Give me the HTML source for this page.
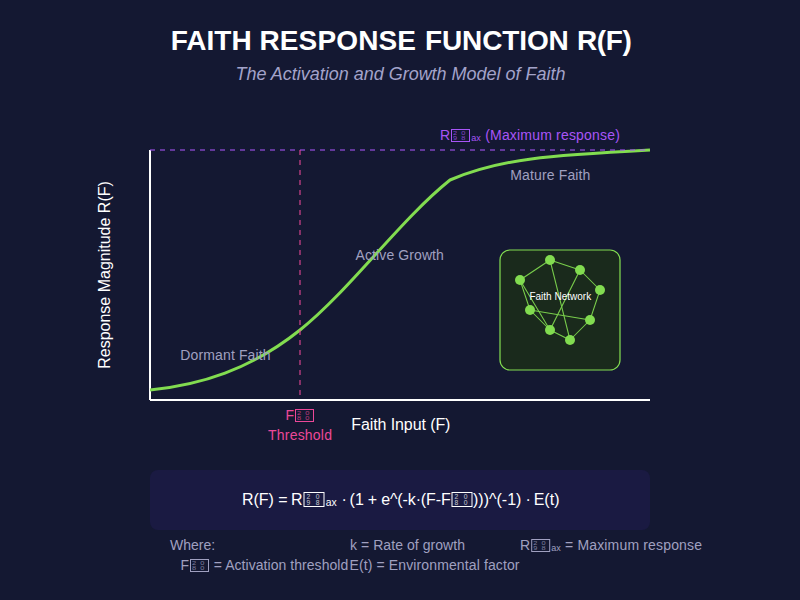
<!DOCTYPE html>
<html><head><meta charset="utf-8"><title>Faith Response Function</title>
<style>
html,body{margin:0;padding:0;background:#141832;width:800px;height:600px;overflow:hidden}
svg{display:block}
text{font-family:"Liberation Sans",sans-serif}
</style></head><body>
<svg width="800" height="600" viewBox="0 0 800 600">
<rect width="800" height="600" fill="#141832"/>
<text x="170.78" y="50" font-size="28" fill="#ffffff" font-weight="bold">FAITH</text>
<text x="259.44" y="50" font-size="28" fill="#ffffff" textLength="156.6" lengthAdjust="spacing" font-weight="bold">RESPONSE</text>
<text x="425.02" y="50" font-size="28" fill="#ffffff" textLength="143.8" lengthAdjust="spacing" font-weight="bold">FUNCTION</text>
<text x="577.05" y="50" font-size="28" fill="#ffffff" textLength="54.7" lengthAdjust="spacing" font-weight="bold">R(F)</text>
<text x="235.5" y="80" font-size="18" fill="#a3a3ca" textLength="330" lengthAdjust="spacing" font-style="italic">The Activation and Growth Model of Faith</text>
<line x1="150" y1="150" x2="150" y2="400" stroke="#ffffff" stroke-width="2"/>
<line x1="150" y1="400" x2="650" y2="400" stroke="#ffffff" stroke-width="2"/>
<path d="M150,390 C200,385 250,370 300,330 C350,290 400,220 450,180 C500,158.5 550,155.3 650,150" fill="none" stroke="#82dc50" stroke-width="3"/>
<line x1="150" y1="150" x2="650" y2="150" stroke="#a855f7" stroke-opacity="0.53" stroke-width="2" stroke-dasharray="5,5"/>
<line x1="300" y1="150" x2="300" y2="400" stroke="#ec4899" stroke-opacity="0.53" stroke-width="2" stroke-dasharray="5,5"/>
<text x="440" y="140" font-size="14" fill="#a855f7">R</text>
<g fill="#a855f7"><rect x="451.50" y="129.50" width="18.00" height="12.00" fill="none" stroke="#a855f7" stroke-width="1"/><g font-size="5.3" opacity="0.75"><text transform="translate(453.10,134.90) scale(1.4,1)">2</text><text transform="translate(461.30,134.90) scale(1.4,1)">0</text><text transform="translate(453.10,139.90) scale(1.4,1)">9</text><text transform="translate(461.30,139.90) scale(1.4,1)">8</text></g></g>
<text x="471.3" y="141" font-size="9" fill="#a855f7">ax</text>
<text x="485.2" y="140" font-size="14" fill="#a855f7" textLength="134.6" lengthAdjust="spacing">(Maximum response)</text>
<text x="180.3" y="360" font-size="14" fill="#a0a0c0" textLength="90.3" lengthAdjust="spacing">Dormant Faith</text>
<text x="355.6" y="260" font-size="14" fill="#a0a0c0" textLength="88.3" lengthAdjust="spacing">Active Growth</text>
<text x="510.2" y="180" font-size="14" fill="#a0a0c0" textLength="80.2" lengthAdjust="spacing">Mature Faith</text>
<text transform="translate(110,275) rotate(-90)" text-anchor="middle" font-size="16" fill="#ffffff">Response Magnitude R(F)</text>
<text x="351.2" y="430" font-size="16" fill="#ffffff" textLength="99.2" lengthAdjust="spacing">Faith Input (F)</text>
<text x="285.6" y="420" font-size="14" fill="#ec4899">F</text>
<g fill="#ec4899"><rect x="295.50" y="409.50" width="18.00" height="12.00" fill="none" stroke="#ec4899" stroke-width="1"/><g font-size="5.3" opacity="0.75"><text transform="translate(297.10,414.90) scale(1.4,1)">2</text><text transform="translate(305.30,414.90) scale(1.4,1)">0</text><text transform="translate(297.10,419.90) scale(1.4,1)">8</text><text transform="translate(305.30,419.90) scale(1.4,1)">0</text></g></g>
<text x="268" y="440" font-size="14" fill="#ec4899" textLength="64" lengthAdjust="spacing">Threshold</text>
<rect x="500" y="250" width="120" height="120" rx="10" fill="#1a2a1c" stroke="#82dc50" stroke-width="1.22"/>
<g stroke="#82dc50" stroke-width="1.05" opacity="0.92">
<line x1="520" y1="280" x2="550" y2="260"/>
<line x1="550" y1="260" x2="580" y2="270"/>
<line x1="580" y1="270" x2="600" y2="290"/>
<line x1="600" y1="290" x2="590" y2="320"/>
<line x1="590" y1="320" x2="570" y2="340"/>
<line x1="570" y1="340" x2="550" y2="330"/>
<line x1="550" y1="330" x2="530" y2="310"/>
<line x1="530" y1="310" x2="520" y2="280"/>
<line x1="520" y1="280" x2="550" y2="330"/>
<line x1="550" y1="260" x2="570" y2="340"/>
<line x1="580" y1="270" x2="550" y2="330"/>
<line x1="530" y1="310" x2="590" y2="320"/>
</g>
<g fill="#82dc50"><circle cx="550" cy="260" r="5"/><circle cx="580" cy="270" r="5"/><circle cx="520" cy="280" r="5"/><circle cx="600" cy="290" r="5"/><circle cx="530" cy="310" r="5"/><circle cx="590" cy="320" r="5"/><circle cx="550" cy="330" r="5"/><circle cx="570" cy="340" r="5"/></g>
<text x="529.4" y="300" font-size="10" fill="#ffffff" textLength="61.8" lengthAdjust="spacing">Faith Network</text>
<rect x="150" y="470" width="500" height="60" rx="8" fill="#1a1a42"/>
<text x="241.9" y="505" font-size="16" fill="#ffffff">R(F) =</text>
<text x="290.9" y="505" font-size="16" fill="#ffffff">R</text>
<g fill="#ffffff"><rect x="304.00" y="492.50" width="20.00" height="14.00" fill="none" stroke="#ffffff" stroke-width="1"/><g font-size="6.4" opacity="0.75"><text transform="translate(306.40,498.50) scale(1.05,1)">2</text><text transform="translate(315.70,498.50) scale(1.05,1)">0</text><text transform="translate(306.40,505.10) scale(1.05,1)">9</text><text transform="translate(315.70,505.10) scale(1.05,1)">8</text></g></g>
<text x="325.8" y="506" font-size="10.4" fill="#ffffff">ax</text>
<text x="341.6" y="505" font-size="16" fill="#ffffff">·</text>
<text x="349.6" y="505" font-size="16" fill="#ffffff">(1</text>
<text x="367.7" y="505" font-size="16" fill="#ffffff">+</text>
<text x="381.2" y="505" font-size="16" fill="#ffffff" textLength="69.5" lengthAdjust="spacing">e^(-k·(F-F</text>
<g fill="#ffffff"><rect x="452.00" y="492.50" width="20.00" height="14.00" fill="none" stroke="#ffffff" stroke-width="1"/><g font-size="6.4" opacity="0.75"><text transform="translate(454.40,498.50) scale(1.05,1)">2</text><text transform="translate(463.70,498.50) scale(1.05,1)">0</text><text transform="translate(454.40,505.10) scale(1.05,1)">8</text><text transform="translate(463.70,505.10) scale(1.05,1)">0</text></g></g>
<text x="473" y="505" font-size="16" fill="#ffffff">)))^(-1)</text>
<text x="525.6" y="505" font-size="16" fill="#ffffff">·</text>
<text x="533.7" y="505" font-size="16" fill="#ffffff">E(t)</text>
<text x="170" y="550" font-size="14" fill="#a0a0c0">Where:</text>
<text x="350" y="550" font-size="14" fill="#a0a0c0" textLength="115" lengthAdjust="spacing">k = Rate of growth</text>
<text x="520" y="550" font-size="14" fill="#a0a0c0">R</text>
<g fill="#a0a0c0"><rect x="531.70" y="539.50" width="18.00" height="12.00" fill="none" stroke="#a0a0c0" stroke-width="1"/><g font-size="5.3" opacity="0.75"><text transform="translate(533.30,544.90) scale(1.4,1)">2</text><text transform="translate(541.50,544.90) scale(1.4,1)">0</text><text transform="translate(533.30,549.90) scale(1.4,1)">9</text><text transform="translate(541.50,549.90) scale(1.4,1)">8</text></g></g>
<text x="551.2" y="551" font-size="9" fill="#a0a0c0">ax</text>
<text x="565" y="550" font-size="14" fill="#a0a0c0" textLength="137" lengthAdjust="spacing">= Maximum response</text>
<text x="180.5" y="570" font-size="14" fill="#a0a0c0">F</text>
<g fill="#a0a0c0"><rect x="190.50" y="559.50" width="18.00" height="12.00" fill="none" stroke="#a0a0c0" stroke-width="1"/><g font-size="5.3" opacity="0.75"><text transform="translate(192.10,564.90) scale(1.4,1)">2</text><text transform="translate(200.30,564.90) scale(1.4,1)">0</text><text transform="translate(192.10,569.90) scale(1.4,1)">8</text><text transform="translate(200.30,569.90) scale(1.4,1)">0</text></g></g>
<text x="213.8" y="570" font-size="14" fill="#a0a0c0" textLength="134.5" lengthAdjust="spacing">= Activation threshold</text>
<text x="349.5" y="570" font-size="14" fill="#a0a0c0" textLength="170" lengthAdjust="spacing">E(t) = Environmental factor</text>
</svg>
</body></html>
